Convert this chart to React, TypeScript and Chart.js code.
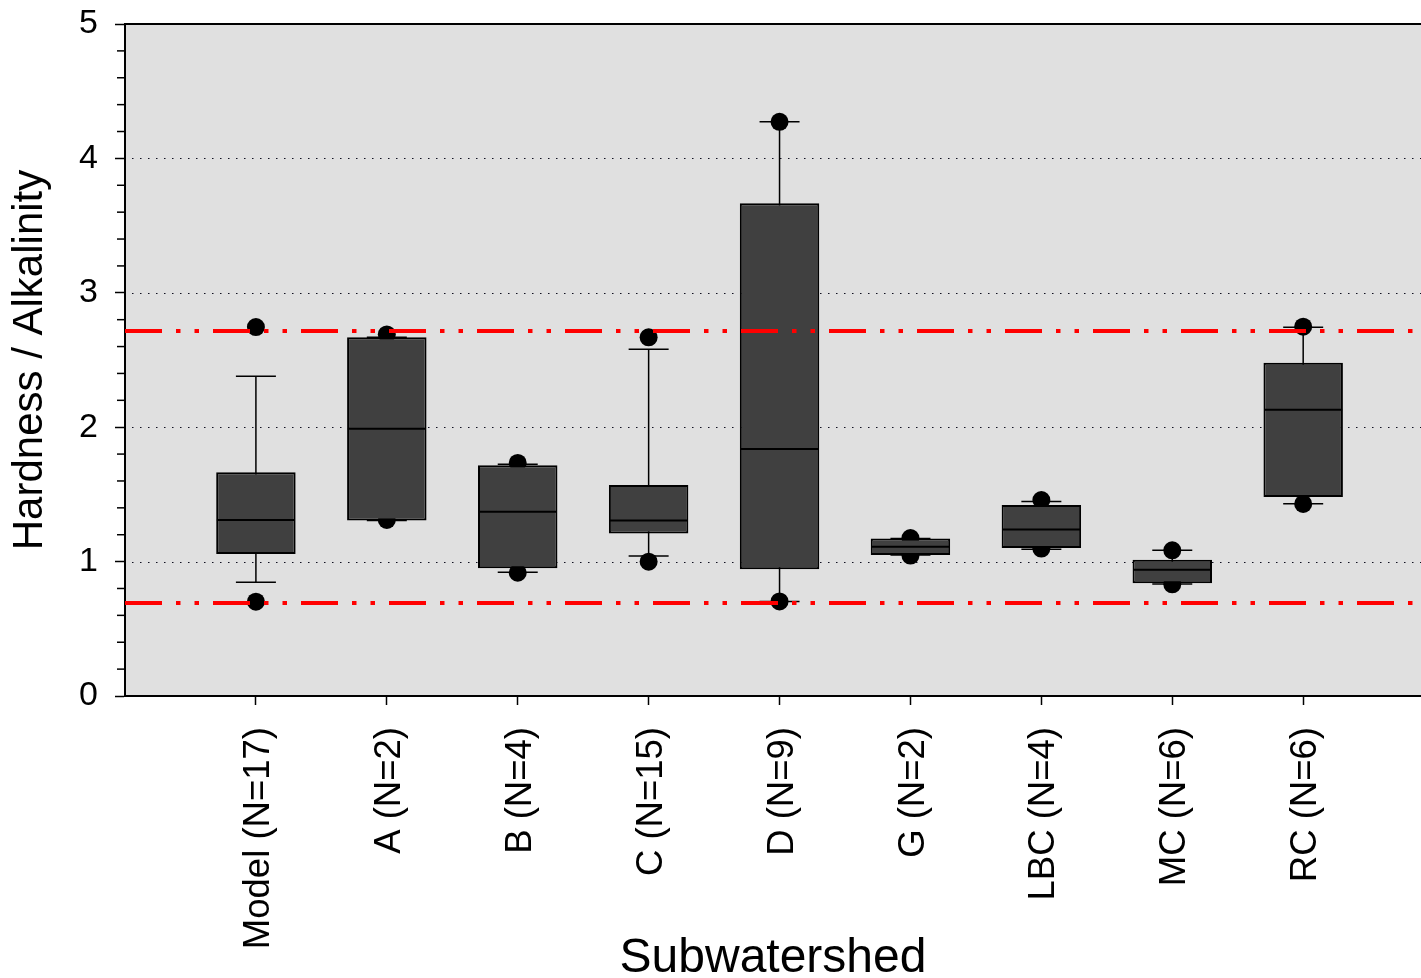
import { useEffect, useRef } from 'react';
import { Chart, registerables } from 'chart.js';

Chart.register(...registerables);

// Subwatershed groups shown along the x axis
const groups = ['Model (N=17)', 'A (N=2)', 'B (N=4)', 'C (N=15)', 'D (N=9)', 'G (N=2)', 'LBC (N=4)', 'MC (N=6)', 'RC (N=6)'];

// Box statistics (hardness / alkalinity ratio)
const q1 = [1.057, 1.305, 0.95, 1.21, 0.943, 1.049, 1.101, 0.838, 1.481];
const median = [1.31, 1.989, 1.371, 1.305, 1.838, 1.11, 1.238, 0.94, 2.13];
const q3 = [1.664, 2.669, 1.717, 1.57, 3.667, 1.171, 1.421, 1.014, 2.48];
const whiskerLow = [0.846, 1.305, 0.92, 1.042, 0.704, 1.049, 1.092, 0.833, 1.431];
const whiskerHigh = [2.38, 2.669, 1.724, 2.58, 4.272, 1.171, 1.448, 1.084, 2.743];

// Extreme observations drawn as dots
const pointLow = [0.702, 1.31, 0.917, 0.999, 0.704, 1.045, 1.097, 0.831, 1.429];
const pointHigh = [2.745, 2.69, 1.734, 2.669, 4.272, 1.175, 1.458, 1.084, 2.748];

// Reference limits (red dash-dot lines)
const limitUpper = 2.716;
const limitLower = 0.692;

// Axis ranges
const xRange = [-1, 8.9];
const yRange = [0, 5];
const yMinorStep = 0.2;

const FONT = "'Liberation Sans', Arial, Helvetica, sans-serif";

const isWhole = (v: number) => Math.abs(v - Math.round(v)) < 1e-6;

const framePlugin = {
  id: 'frame',
  beforeDraw(chart: any) {
    const { ctx, chartArea: a } = chart;
    ctx.save();
    ctx.fillStyle = '#e0e0e0';
    ctx.fillRect(a.left, a.top, a.right - a.left, a.bottom - a.top);
    ctx.restore();
  },
  beforeDatasetsDraw(chart: any) {
    const { ctx, chartArea: a } = chart;
    const y = chart.scales.y;
    ctx.save();
    ctx.strokeStyle = '#101020';
    ctx.lineWidth = 1.2;
    ctx.setLineDash([1.5, 6.5]);
    y.ticks.forEach((t: any) => {
      if (!isWhole(t.value) || t.value <= yRange[0] || t.value >= yRange[1]) return;
      const py = Math.round(y.getPixelForValue(t.value)) + 0.5;
      ctx.beginPath();
      ctx.moveTo(a.left + 7, py);
      ctx.lineTo(a.right, py);
      ctx.stroke();
    });
    ctx.restore();
  },
  afterDraw(chart: any) {
    const { ctx, chartArea: a } = chart;
    const y = chart.scales.y;
    ctx.save();
    ctx.strokeStyle = '#000';
    // top frame line
    ctx.lineWidth = 2;
    ctx.beginPath();
    ctx.moveTo(a.left - 1, a.top);
    ctx.lineTo(a.right, a.top);
    ctx.stroke();
    // minor ticks on the y axis
    ctx.lineWidth = 1.5;
    y.ticks.forEach((t: any) => {
      if (isWhole(t.value)) return;
      const py = y.getPixelForValue(t.value);
      ctx.beginPath();
      ctx.moveTo(a.left - 8, py);
      ctx.lineTo(a.left, py);
      ctx.stroke();
    });
    ctx.restore();
  },
};

export default function App() {
  const ref = useRef<HTMLCanvasElement>(null);

  useEffect(() => {
    document.body.style.margin = '0';
    const idx = groups.map((_, i) => i);

    const chart = new Chart(ref.current as HTMLCanvasElement, {
      type: 'bar',
      data: {
        datasets: [
          {
            type: 'line',
            label: 'whiskers',
            data: idx.flatMap((i) => [
              { x: i, y: whiskerLow[i] },
              { x: i, y: whiskerHigh[i] },
              { x: i, y: null },
            ]),
            borderColor: '#000',
            borderWidth: 1.5,
            pointRadius: 0,
            spanGaps: false,
            order: 6,
          } as any,
          {
            type: 'scatter',
            label: 'caps',
            data: idx.flatMap((i) => [
              { x: i, y: whiskerLow[i] },
              { x: i, y: whiskerHigh[i] },
            ]),
            pointStyle: 'line',
            pointRadius: 20,
            borderColor: '#000',
            borderWidth: 1.5,
            order: 5,
          } as any,
          {
            type: 'scatter',
            label: 'extremes',
            data: idx.flatMap((i) => [
              { x: i, y: pointLow[i] },
              { x: i, y: pointHigh[i] },
            ]),
            pointStyle: 'circle',
            pointRadius: 9,
            backgroundColor: '#000',
            borderWidth: 0,
            order: 4,
          } as any,
          {
            type: 'bar',
            label: 'boxes',
            data: idx.map((i) => ({ x: i, y: [q1[i], q3[i]] })),
            backgroundColor: '#404040',
            borderColor: '#000',
            borderWidth: 2,
            borderSkipped: false,
            grouped: false,
            categoryPercentage: 1,
            barPercentage: 0.607,
            order: 3,
          } as any,
          {
            type: 'scatter',
            label: 'median',
            data: idx.map((i) => ({ x: i, y: median[i] })),
            pointStyle: 'line',
            pointRadius: 39,
            borderColor: '#000',
            borderWidth: 2,
            order: 2,
          } as any,
          {
            type: 'line',
            label: 'upper limit',
            data: [
              { x: xRange[0], y: limitUpper },
              { x: xRange[1], y: limitUpper },
            ],
            borderColor: '#ff0000',
            borderWidth: 4,
            borderDash: [37, 14, 4.5, 14, 4.5, 14],
            pointRadius: 0,
            order: 1,
          } as any,
          {
            type: 'line',
            label: 'lower limit',
            data: [
              { x: xRange[0], y: limitLower },
              { x: xRange[1], y: limitLower },
            ],
            borderColor: '#ff0000',
            borderWidth: 4,
            borderDash: [37, 14, 4.5, 14, 4.5, 14],
            pointRadius: 0,
            order: 1,
          } as any,
        ],
      },
      options: {
        animation: false,
        responsive: true,
        maintainAspectRatio: false,
        events: [],
        layout: { autoPadding: false, padding: { top: 24, right: 0, left: 0, bottom: 0 } },
        plugins: {
          legend: { display: false },
          tooltip: { enabled: false },
        },
        scales: {
          x: {
            type: 'linear',
            position: 'bottom',
            min: xRange[0],
            max: xRange[1],
            offset: false,
            afterBuildTicks: (s: any) => {
              s.ticks = s.ticks.filter(
                (t: any) => isWhole(t.value) && t.value >= 0 && t.value <= groups.length - 1
              );
            },
            afterFit: (s: any) => {
              s.height = 282;
              s.paddingLeft = 0;
              s.paddingRight = 0;
            },
            ticks: {
              stepSize: 1,
              autoSkip: false,
              minRotation: 90,
              maxRotation: 90,
              padding: 22,
              labelOffset: 3,
              color: '#000',
              font: { family: FONT, size: 36.5 },
              callback: (v: any) => {
                const i = Math.round(Number(v));
                return isWhole(Number(v)) && i >= 0 && i < groups.length ? groups[i] : '';
              },
            },
            grid: {
              offset: false,
              drawOnChartArea: false,
              drawTicks: true,
              tickLength: 9,
              tickColor: '#000',
              tickWidth: 1.5,
            },
            border: { display: true, color: '#000', width: 2 },
            title: {
              display: true,
              text: 'Subwatershed',
              color: '#000',
              font: { family: FONT, size: 48, lineHeight: 0.8 },
              padding: { top: 0, bottom: 0 },
            },
          } as any,
          y: {
            type: 'linear',
            min: yRange[0],
            max: yRange[1],
            afterFit: (s: any) => {
              s.width = 125;
              s.paddingTop = 0;
              s.paddingBottom = 0;
            },
            ticks: {
              stepSize: yMinorStep,
              autoSkip: false,
              padding: 17,
              color: '#000',
              font: { family: FONT, size: 34 },
              callback: (v: any) => (isWhole(Number(v)) ? String(Math.round(Number(v))) : ''),
            },
            grid: {
              drawOnChartArea: false,
              drawTicks: true,
              tickLength: 10,
              tickWidth: 1.5,
              tickColor: (c: any) => (c.tick && isWhole(c.tick.value) ? '#000' : 'rgba(0,0,0,0)'),
            },
            border: { display: true, color: '#000', width: 2 },
            title: {
              display: true,
              text: 'Hardness / Alkalinity',
              color: '#000',
              font: { family: FONT, size: 42 },
              padding: { top: 5, bottom: 0 },
            },
          } as any,
        },
      },
      plugins: [framePlugin],
    });

    return () => chart.destroy();
  }, []);

  return (
    <div style={{ position: 'relative', width: 1421, height: 978 }}>
      <canvas ref={ref} />
    </div>
  );
}
